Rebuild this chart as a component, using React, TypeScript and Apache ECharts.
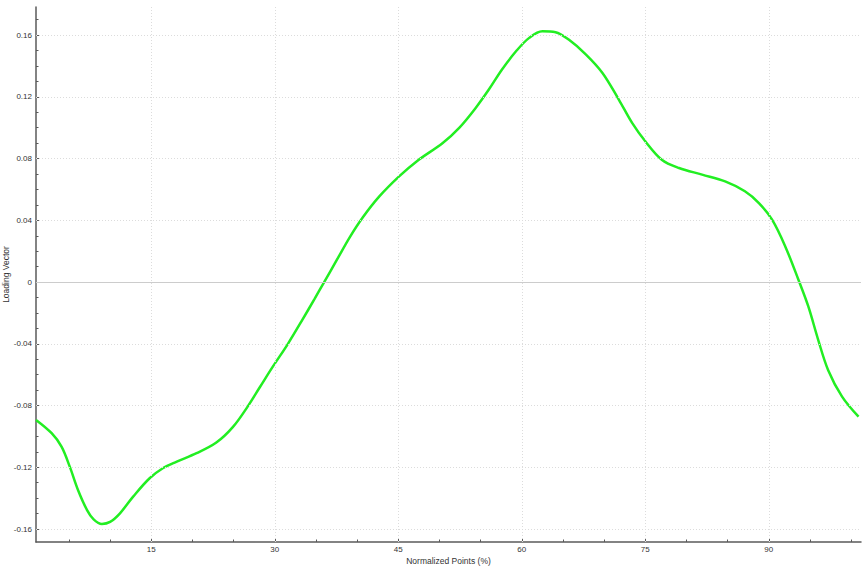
import React, { useEffect, useRef } from "react";
import * as echarts from "echarts";

// Sampled curve (x in Normalized Points %, y = Loading Vector)
const xValues = [
  1.0, 2.9, 4.1, 5.1, 6.1, 7.2, 8.0, 9.0, 10.0, 11.2, 12.8, 14.8, 16.4, 18.1, 20.5,
  22.9, 24.9, 26.7, 28.2, 29.8, 31.6, 33.4, 34.8, 36.0, 37.5, 39.1, 40.7, 42.7, 45.1,
  47.3, 50.4, 52.4, 54.4, 56.0, 57.6, 59.3, 60.9, 62.5, 64.1, 65.7, 67.8, 69.8,
  71.8, 73.4, 75.0, 77.0, 79.1, 81.9, 84.7, 87.1, 88.8, 90.4, 92.0, 93.6, 94.8, 96.0,
  97.2, 98.9, 100.9,
];
const loadingValues = [
  -0.0893, -0.0979, -0.1066, -0.1196, -0.1347, -0.1477, -0.1537, -0.1567, -0.1554,
  -0.1498, -0.139, -0.1271, -0.1206, -0.1163, -0.1109, -0.104, -0.094, -0.0807,
  -0.068, -0.0545, -0.04, -0.024, -0.0112, 0.0, 0.014, 0.029, 0.042, 0.0555,
  0.0685, 0.0785, 0.0901, 0.0999, 0.1128, 0.1247, 0.1377, 0.1495, 0.1582,
  0.1625, 0.1619, 0.1571, 0.1474, 0.1355, 0.1181, 0.1031, 0.0912, 0.0793, 0.0739,
  0.0696, 0.0652, 0.0588, 0.0512, 0.0404, 0.0231, 0.0015, -0.0158, -0.0374, -0.0569,
  -0.0742, -0.0872,
];

const xMajorTicks = [15, 30, 45, 60, 75, 90];
const xMinorTicks = [5, 10, 20, 25, 35, 40, 50, 55, 65, 70, 80, 85, 95, 100];
const yMajorTicks = [-0.16, -0.12, -0.08, -0.04, 0, 0.04, 0.08, 0.12, 0.16];
const yMinorTicks = [
  -0.15, -0.14, -0.13, -0.11, -0.1, -0.09, -0.07, -0.06, -0.05, -0.03, -0.02, -0.01,
  0.01, 0.02, 0.03, 0.05, 0.06, 0.07, 0.09, 0.1, 0.11, 0.13, 0.14, 0.15, 0.17,
];

const X_MIN = 1;
const X_MAX = 101.2;
const Y_MIN = -0.1684;
const Y_MAX = 0.1782;

const FONT = "Liberation Sans";
const AXIS_COLOR = "#5a5a5a";
const LABEL_COLOR = "#333333";
const GRID_COLOR = "#dcdcdc";

export default function App() {
  const ref = useRef<HTMLDivElement>(null);

  useEffect(() => {
    if (!ref.current) return;
    const chart = echarts.init(ref.current, null, { renderer: "svg" });
    const lineData = xValues.map((x, i) => [x, loadingValues[i]]);

    const gridLines = [
      ...xMajorTicks.map((v) => ({ xAxis: v })),
      ...yMajorTicks.filter((v) => v !== 0).map((v) => ({ yAxis: v })),
    ];

    chart.setOption({
      animation: false,
      backgroundColor: "#ffffff",
      grid: {
        left: 36,
        right: 3,
        top: 7,
        bottom: 24,
        containLabel: false,
        outerBoundsMode: "none",
      },
      xAxis: [
        {
          type: "value",
          min: X_MIN,
          max: X_MAX,
          position: "bottom",
          name: "Normalized Points (%)",
          nameLocation: "middle",
          nameGap: 14,
          nameMoveOverlap: false,
          nameTextStyle: { fontFamily: FONT, fontSize: 8.5, color: LABEL_COLOR },
          axisLine: { show: true, onZero: false, lineStyle: { color: AXIS_COLOR, width: 1.5 } },
          axisTick: {
            show: true,
            inside: true,
            length: 4,
            customValues: xMajorTicks,
            lineStyle: { color: AXIS_COLOR, width: 1 },
          },
          axisLabel: {
            customValues: xMajorTicks,
            margin: 3,
            fontFamily: FONT,
            fontSize: 8,
            color: LABEL_COLOR,
          },
          splitLine: { show: false },
        },
        {
          type: "value",
          min: X_MIN,
          max: X_MAX,
          position: "bottom",
          axisLine: { show: false, onZero: false },
          axisTick: {
            show: true,
            inside: true,
            length: 2.5,
            customValues: xMinorTicks,
            lineStyle: { color: AXIS_COLOR, width: 1 },
          },
          axisLabel: { show: false },
          splitLine: { show: false },
        },
      ],
      yAxis: [
        {
          type: "value",
          min: Y_MIN,
          max: Y_MAX,
          position: "left",
          name: "Loading Vector",
          nameLocation: "middle",
          nameGap: 26,
          nameMoveOverlap: false,
          nameTextStyle: { fontFamily: FONT, fontSize: 8.5, color: LABEL_COLOR },
          axisLine: { show: true, onZero: false, lineStyle: { color: AXIS_COLOR, width: 1.5 } },
          axisTick: {
            show: true,
            inside: true,
            length: 4,
            customValues: yMajorTicks,
            lineStyle: { color: AXIS_COLOR, width: 1 },
          },
          axisLabel: {
            customValues: yMajorTicks,
            margin: 4,
            fontFamily: FONT,
            fontSize: 8,
            color: LABEL_COLOR,
            formatter: (v: number) => (Math.abs(v) < 1e-9 ? "0" : v.toFixed(2)),
          },
          splitLine: { show: false },
        },
        {
          type: "value",
          min: Y_MIN,
          max: Y_MAX,
          position: "left",
          axisLine: { show: false, onZero: false },
          axisTick: {
            show: true,
            inside: true,
            length: 2.5,
            customValues: yMinorTicks,
            lineStyle: { color: AXIS_COLOR, width: 1 },
          },
          axisLabel: { show: false },
          splitLine: { show: false },
        },
      ],
      series: [
        {
          type: "line",
          xAxisIndex: 0,
          yAxisIndex: 0,
          data: [],
          silent: true,
          z: 1,
          markLine: {
            silent: true,
            symbol: "none",
            label: { show: false },
            lineStyle: { color: GRID_COLOR, type: [1, 2], width: 1 },
            data: gridLines,
          },
        },
        {
          type: "line",
          xAxisIndex: 0,
          yAxisIndex: 0,
          data: [],
          silent: true,
          z: 1,
          markLine: {
            silent: true,
            symbol: "none",
            label: { show: false },
            lineStyle: { color: "#cccccc", type: "solid", width: 1 },
            data: [{ yAxis: 0 }],
          },
        },
        {
          type: "line",
          xAxisIndex: 0,
          yAxisIndex: 0,
          data: lineData,
          smooth: 0.35,
          showSymbol: false,
          z: 3,
          lineStyle: { color: "#22ee22", width: 2.5 },
          itemStyle: { color: "#22ee22" },
        },
      ],
    });

    return () => chart.dispose();
  }, []);

  return (
    <div
      ref={ref}
      style={{ position: "fixed", left: 0, top: 0, width: 864, height: 566, background: "#fff" }}
    />
  );
}
